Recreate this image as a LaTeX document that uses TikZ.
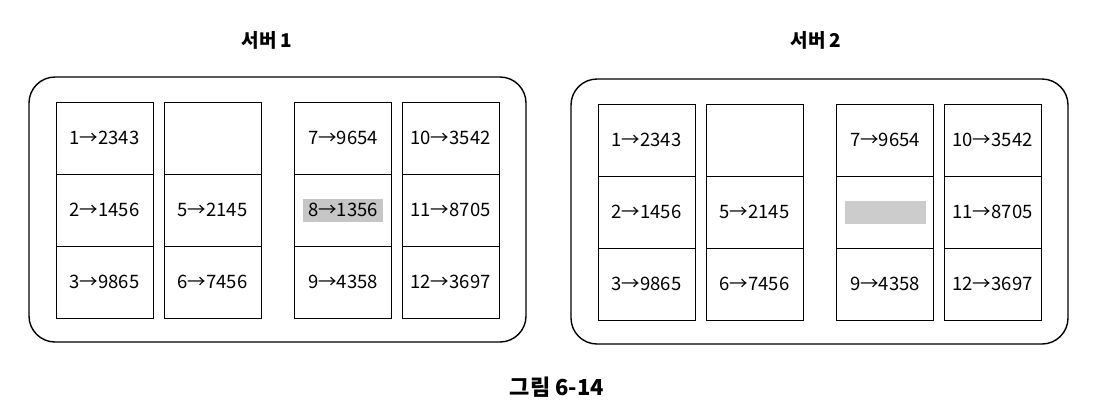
\documentclass[tikz,border=0pt]{standalone}
\usepackage{fontspec}
\setmainfont{Noto Sans CJK KR}
\usetikzlibrary{positioning}

\tikzset{
  server/.style={draw, line width=1.4pt, rounded corners=26pt, minimum width=497pt, minimum height=265pt},
  cell/.style={draw, line width=1pt, minimum width=97pt, minimum height=72pt, inner sep=0pt, font=\fontsize{18.5}{20}\selectfont},
  title/.style={font=\bfseries\fontsize{19}{22}\selectfont}
}

\begin{document}
\begin{tikzpicture}[x=1pt, y=-1pt]
    \useasboundingbox (0,0) rectangle (1108,416);

    % Titles
    \node[title] (t1) at (267,40) {서버 1};
    \node[title] (t2) at (816,40) {서버 2};
    \node[title, font=\bfseries\fontsize{22}{24}\selectfont] (fig) at (557,387) {그림 6-14};

    % Two servers with the same table
    \foreach \s/\dx/\dy in {1/0/0, 2/542/2} {
      \node[server] (srv\s) at (277.5+\dx,209.5+\dy) {};

      % Draw cells
      \foreach \n/\x/\y/\t in {1/104.5/138/1→2343, 2/104.5/210/2→1456, 3/104.5/282/3→9865,
                              4/212.5/138/{}, 5/212.5/210/5→2145, 6/212.5/282/6→7456,
                              7/343/138/7→9654, 8/343/210/{}, 9/343/282/9→4358,
                              10/450.5/138/10→3542, 11/450.5/210/11→8705, 12/450.5/282/12→3697} {
        \node[cell] (s\s c\n) at (\x+\dx,\y+\dy) {\t};
      }
    }

    % Entry 8 on server 1, and the greyed slot on server 2
    \node[fill=gray!45, minimum width=80pt, minimum height=23pt, inner sep=0pt, font=\fontsize{18.5}{20}\selectfont] (k8) at (s1c8) {8→1356};
    \node[fill=gray!40, minimum width=81pt, minimum height=23pt, inner sep=0pt] (k8b) at (s2c8) {};
\end{tikzpicture}
\end{document}
